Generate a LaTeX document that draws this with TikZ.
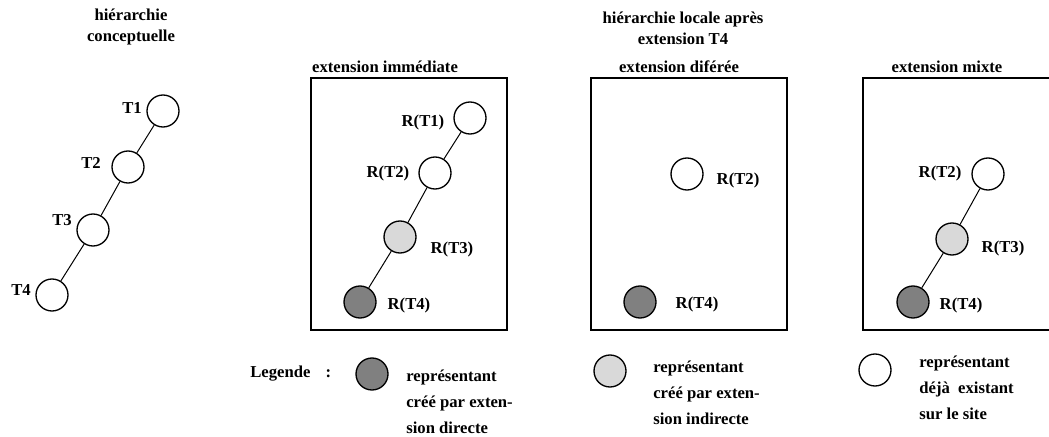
\documentclass[tikz,border=0pt]{standalone}
\usepackage{fontspec}
\setmainfont{Liberation Serif}
\definecolor{repdir}{RGB}{128,128,128}
\definecolor{repind}{RGB}{217,217,217}
\begin{document}
\begin{tikzpicture}[x=0.6pt,y=-0.6pt,
		txt/.style={font=\fontsize{10}{12.6}\selectfont\bfseries,inner sep=0pt},
		leg/.style={txt,align=left,font=\fontsize{10}{15.6}\selectfont\bfseries},
		rep/.style={circle,draw,line width=0.8pt,minimum size=19.2pt,inner sep=0pt,fill=white},
		repi/.style={rep,fill=repind},
		repd/.style={rep,fill=repdir}]
		\clip (0,0) rectangle (1049,437);
		\node[txt,align=center] (titre1) at (131,27) {hiérarchie\\conceptuelle};
		\node[txt,align=center] (titre2) at (683,28) {hiérarchie locale après\\extension T4};
		\node[rep] (t1) at (163,111) {};
		\node[rep] (t2) at (128,167) {};
		\node[rep] (t3) at (93,230) {};
		\node[rep] (t4) at (52,295) {};
		\draw[line width=0.6pt] (t1)--(t2)--(t3)--(t4);
		\node[txt] (lt1) at (132,108) {T1};
		\node[txt] (lt2) at (91,163) {T2};
		\node[txt] (lt3) at (62,220) {T3};
		\node[txt] (lt4) at (21,290) {T4};
		\node[txt] (imm) at (385,67) {extension immédiate};
		\draw[line width=0.8pt] (311,78) rectangle (507,330);
		\node[rep] (a1) at (470,118) {};
		\node[rep] (a2) at (435,173) {};
		\node[repi] (a3) at (400,237) {};
		\node[repd] (a4) at (360,302) {};
		\draw[line width=0.6pt] (a1)--(a2)--(a3)--(a4);
		\node[txt] (la1) at (423,122) {R(T1)};
		\node[txt] (la2) at (388,173) {R(T2)};
		\node[txt] (la3) at (452,249) {R(T3)};
		\node[txt] (la4) at (409,305) {R(T4)};
		\node[txt] (dif) at (679,67) {extension diférée};
		\draw[line width=0.8pt] (591,78) rectangle (787,330);
		\node[rep] (b2) at (687,174) {};
		\node[repd] (b4) at (640,302) {};
		\node[txt] (lb2) at (738,180) {R(T2)};
		\node[txt] (lb4) at (697,304) {R(T4)};
		\node[txt] (mix) at (947,67) {extension mixte};
		\draw[line width=0.8pt] (863,78) rectangle (1059,330);
		\node[rep] (c2) at (988,174) {};
		\node[repi] (c3) at (952,239) {};
		\node[repd] (c4) at (913,302) {};
		\draw[line width=0.6pt] (c2)--(c3)--(c4);
		\node[txt] (lc2) at (940,173) {R(T2)};
		\node[txt] (lc3) at (1003,248) {R(T3)};
		\node[txt] (lc4) at (961,305) {R(T4)};
		\node[txt,anchor=west] (legende) at (250,374) {Legende\hspace{0.9em}:};
		\node[repd] (ld) at (372,374) {};
		\node[leg,anchor=west] (tld) at (406,402) {représentant\\créé par exten-\\sion directe};
		\node[repi] (li) at (610,371) {};
		\node[leg,anchor=west] (tli) at (653,393) {représentant\\créé par exten-\\sion indirecte};
		\node[rep] (le) at (875,370) {};
		\node[leg,anchor=west] (tle) at (919,388) {représentant\\déjà~ existant\\sur le site};
	\end{tikzpicture}
\end{document}
